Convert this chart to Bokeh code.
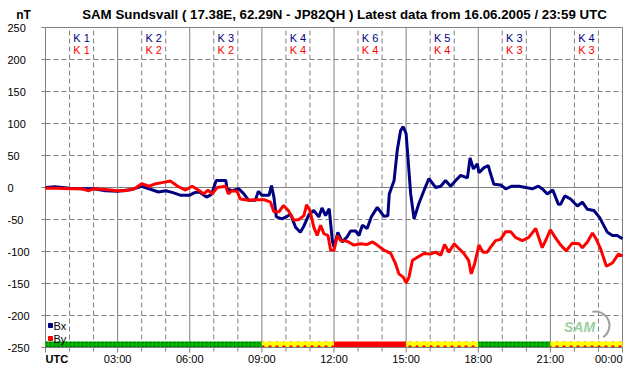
from bokeh.plotting import figure
from bokeh.models import Label, Range1d
from bokeh.embed import file_html
from bokeh.resources import INLINE

# ---------------- data ----------------
bx_hours = [0.0, 0.4, 1.0, 1.5, 2.0, 2.5, 3.0, 3.6, 4.0, 4.3, 4.7, 5.0, 5.3, 5.6, 6.0, 6.2, 6.4, 6.7, 6.9,
            7.1, 7.5, 7.55, 7.76, 8.04, 8.25, 8.45, 8.73, 8.85, 9.0, 9.3, 9.4, 9.5, 9.6, 9.84, 10.05,
            10.2, 10.4, 10.6, 10.75, 10.96, 11.16, 11.37, 11.5, 11.65, 11.8, 11.93, 12.0, 12.16, 12.34,
            12.55, 12.69, 12.9, 13.04, 13.18, 13.38, 13.55, 13.8, 14.08, 14.24, 14.3, 14.5, 14.63, 14.77,
            14.88, 15.0, 15.19, 15.33, 15.53, 15.74, 15.95, 16.23, 16.44, 16.64, 16.85, 17.06, 17.27,
            17.55, 17.66, 17.8, 17.96, 18.03, 18.24, 18.42, 18.5, 18.65, 18.93, 19.14, 19.4, 19.7, 19.97,
            20.25, 20.5, 20.66, 20.87, 21.1, 21.33, 21.43, 21.6, 21.84, 22.12, 22.33, 22.54, 22.81, 23.05,
            23.23, 23.37, 23.58, 23.78, 24.0]
bx_values = [0, 1, -1, -2, -2, -5, -6, -3, 2, -2, -7, -5, -8, -12, -12, -8, -7, -15, -11,
             11, 11, -2, -5, -2, -10, -20, -20, -6, -12, -12, 3, -15, -46, -49, -45,
             -42, -62, -70, -60, -42, -36, -46, -32, -44, -33, -83, -93, -70, -85,
             -77, -68, -68, -75, -59, -64, -46, -31, -45, -44, -10, 11, 58, 89,
             95, 84, -10, -49, -25, -5, 14, 0, 2, 11, 2, 11, 19,
             15, 46, 29, 37, 23, 31, 34, 23, 5, 4, -2, 2, 2, 0,
             -2, 2, -2, -10, -4, -26, -26, -13, -18, -29, -23, -34, -36, -47,
             -60, -70, -75, -75, -80]

by_hours = [0.0, 0.5, 1.0, 1.5, 1.8, 2.0, 2.5, 3.0, 3.3, 3.7, 4.0, 4.3, 4.6, 4.9, 5.2, 5.5, 5.82, 6.1,
            6.4, 6.58, 6.76, 6.93, 7.14, 7.5, 7.6, 7.76, 7.97, 8.1, 8.45, 8.73, 9.08, 9.36, 9.5, 9.71,
            9.9, 10.1, 10.33, 10.54, 10.75, 10.86, 11.0, 11.16, 11.3, 11.44, 11.58, 11.75, 11.86, 12.0,
            12.14, 12.28, 12.55, 12.83, 13.1, 13.38, 13.6, 13.8, 14.08, 14.36, 14.56, 14.7, 14.88, 15.0,
            15.12, 15.26, 15.47, 15.74, 16.0, 16.23, 16.44, 16.6, 16.78, 17.0, 17.13, 17.4, 17.6, 17.71,
            17.85, 18.03, 18.2, 18.37, 18.56, 18.72, 18.93, 19.14, 19.35, 19.55, 19.83, 20.1, 20.39,
            20.66, 20.8, 21.0, 21.2, 21.43, 21.66, 21.91, 22.19, 22.33, 22.54, 22.75, 22.91, 23.09,
            23.33, 23.58, 23.83, 24.0]
by_values = [-1, -1, -2, -2, -5, -2, -3, -5, -5, -2, 6, 2, 6, 8, 10, 2, -4, 2,
             -5, -10, -4, -10, 0, 2, -10, -5, -6, -18, -20, -19, -19, -23, -38, -38,
             -28, -36, -51, -50, -44, -27, -36, -62, -75, -59, -72, -75, -98, -98,
             -75, -83, -84, -90, -88, -89, -85, -90, -98, -103, -119, -135, -140, -149,
             -140, -114, -109, -103, -104, -101, -106, -89, -101, -88, -93, -103, -114, -135,
             -119, -90, -101, -101, -91, -83, -81, -69, -69, -78, -83, -78, -64,
             -94, -83, -66, -78, -90, -99, -87, -88, -94, -85, -71, -81, -96,
             -123, -118, -104, -107]

k_centers = [1.5, 4.5, 7.5, 10.5, 13.5, 16.5, 19.5, 22.5]
k_bx = ["K 1", "K 2", "K 3", "K 4", "K 6", "K 5", "K 3", "K 4"]
k_by = ["K 1", "K 2", "K 2", "K 4", "K 4", "K 4", "K 3", "K 3"]

bar_start = [0, 9, 12, 15, 18, 21]
bar_end = [9, 12, 15, 18, 21, 24]
bar_level = ["quiet", "unsettled", "storm", "unsettled", "quiet", "unsettled"]

y_ticks = [250, 200, 150, 100, 50, 0, -50, -100, -150, -200, -250]
x_ticks = [0, 3, 6, 9, 12, 15, 18, 21, 24]
x_minor = [1, 2, 4, 5, 7, 8, 10, 11, 13, 14, 16, 17, 19, 20, 22, 23]
x_tick_labels = ["UTC", "03:00", "06:00", "09:00", "12:00", "15:00", "18:00", "21:00", "00:00"]

title_text = "SAM Sundsvall ( 17.38E, 62.29N - JP82QH ) Latest data from 16.06.2005 / 23:59 UTC"

# ---------------- layout / styles ----------------
W, H = 642, 376
PL, PR, PT, PB = 45, 20, 27, 29          # plot-area margins in pixels
X0, X1, Y0, Y1 = 0, 24, -250, 250        # data extent of the plot area
sx = (W - PL - PR) / (X1 - X0)           # px per hour
sy = (H - PT - PB) / (Y1 - Y0)           # px per nT

FONT = "Liberation Sans"
GRAY = "#808080"
NAVY = "#000080"
RED = "#ff0000"
DASH = "5 3"
level_fill = {"quiet": "#00b400", "unsettled": "#ffff00", "storm": "#ff0000"}
level_hatch = {"quiet": "#006400", "unsettled": "#ff0000", "storm": None}

p = figure(width=W, height=H,
           x_range=Range1d(X0 - PL / sx, X1 + PR / sx),
           y_range=Range1d(Y0 - PB / sy, Y1 + PT / sy),
           output_backend="svg", toolbar_location=None,
           x_axis_location=None, y_axis_location=None, min_border=0)
p.grid.visible = False
p.outline_line_color = None
p.background_fill_color = "white"
p.border_fill_color = "white"

# vertical grid: solid every 3 h (with tick below), dashed every hour
tick_major = 5 / sy
tick_minor = 4 / sy
p.segment(x0=x_ticks, y0=[Y0 - tick_major] * len(x_ticks), x1=x_ticks, y1=[Y1] * len(x_ticks),
          line_color=GRAY, line_width=1)
p.segment(x0=x_minor, y0=[Y0] * len(x_minor), x1=x_minor, y1=[Y1] * len(x_minor),
          line_color=GRAY, line_width=1, line_dash=DASH)
p.segment(x0=x_minor, y0=[Y0 - tick_minor] * len(x_minor), x1=x_minor, y1=[Y0] * len(x_minor),
          line_color=GRAY, line_width=1)

# horizontal grid: solid at 250, 0, -250, dashed elsewhere, ticks to the left
solid_y = [y for y in y_ticks if y in (Y1, 0, Y0)]
dash_y = [y for y in y_ticks if y not in (Y1, 0, Y0)]
p.segment(x0=[X0] * len(dash_y), y0=dash_y, x1=[X1] * len(dash_y), y1=dash_y,
          line_color=GRAY, line_width=1, line_dash=DASH)
p.segment(x0=[X0] * len(solid_y), y0=solid_y, x1=[X1] * len(solid_y), y1=solid_y,
          line_color=GRAY, line_width=1)
p.segment(x0=[X0 - 4 / sx] * len(y_ticks), y0=y_ticks, x1=[X0] * len(y_ticks), y1=y_ticks,
          line_color=GRAY, line_width=1)

# activity bar
for s, e, lv in zip(bar_start, bar_end, bar_level):
    kw = dict(fill_color=level_fill[lv], line_color=None)
    if level_hatch[lv]:
        kw.update(hatch_pattern=".", hatch_color=level_hatch[lv],
                  hatch_scale=4 if lv == "quiet" else 7, hatch_weight=1)
    p.quad(left=[s], right=[e], bottom=[Y0 + 0.5 / sy], top=[Y0 + 6 / sy], **kw)

# data lines
p.line(bx_hours, bx_values, line_color=NAVY, line_width=3)
p.line(by_hours, by_values, line_color=RED, line_width=3)

def txt(x, y, t, align="center", size="11px", color="black", style="normal"):
    p.add_layout(Label(x=x, y=y, text=t, text_align=align, text_baseline="middle",
                       text_font=FONT, text_font_size=size, text_color=color,
                       text_font_style=style))

# K labels
for xc, kb, kr in zip(k_centers, k_bx, k_by):
    txt(xc, Y1 - 10 / sy, kb, color=NAVY)
    txt(xc, Y1 - 22 / sy, kr, color=RED)

# y tick labels (left aligned at the canvas edge)
for yt in y_ticks:
    txt(X0 - 38 / sx, yt, str(yt), align="left")

# x tick labels
for i, (xt, lab) in enumerate(zip(x_ticks, x_tick_labels)):
    align = "left" if i == 0 else ("right" if i == len(x_ticks) - 1 else "center")
    txt(xt, Y0 - 11 / sy, lab, align=align, style="bold" if i == 0 else "normal")

# title and unit
txt(X0 + 299 / sx, Y1 + 13 / sy, title_text, size="13.3px", style="bold")
txt(X0 - 22 / sx, Y1 + 13 / sy, "nT", size="12px", style="bold")

# legend
p.scatter([X0 + 5 / sx], [Y0 + 22 / sy], marker="square", size=4, color=NAVY)
p.scatter([X0 + 5 / sx], [Y0 + 9 / sy], marker="square", size=4, color=RED)
txt(X0 + 8 / sx, Y0 + 22 / sy, "Bx", align="left")
txt(X0 + 8 / sx, Y0 + 9 / sy, "By", align="left")

# logo
p.arc(x=[X0 + 550 / sx], y=[Y0 + 22 / sy], radius=14 / sx, start_angle=-1.0, end_angle=1.8,
      line_color="#a0a0a0", line_width=2)
txt(X0 + 534 / sx, Y0 + 21 / sy, "SAM", size="14px", color="#9fcf9f", style="bold italic")

open("out.html", "w").write(file_html(p, INLINE))
